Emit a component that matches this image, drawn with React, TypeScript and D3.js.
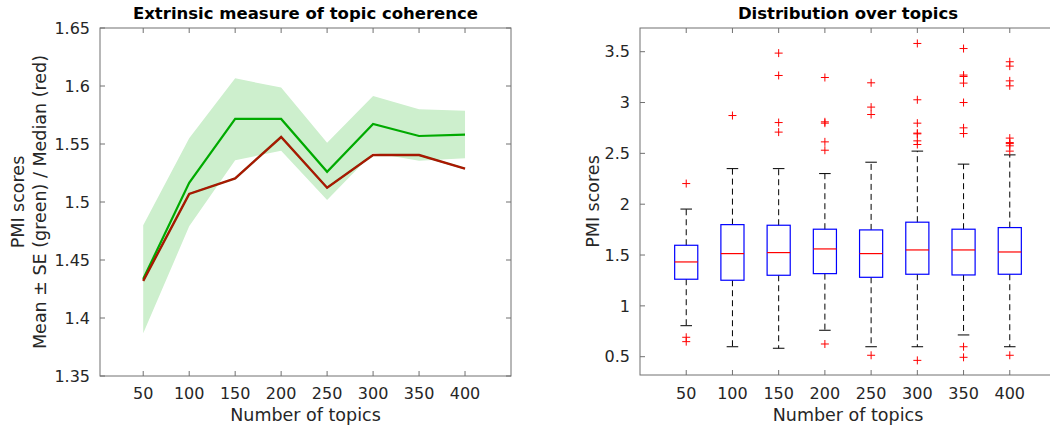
import React from "react";
import * as d3 from "d3";

// ---------- Data ----------
const topics = [50, 100, 150, 200, 250, 300, 350, 400];

// Left chart
const meanPMI = [1.4336, 1.5166, 1.5716, 1.5716, 1.526, 1.5672, 1.5569, 1.558];
const seUpper = [1.48, 1.555, 1.6066, 1.5986, 1.551, 1.5914, 1.5799, 1.5787];
const seLower = [1.3868, 1.479, 1.536, 1.5442, 1.5017, 1.5425, 1.5356, 1.5377];
const medianPMI = [1.432, 1.507, 1.5204, 1.556, 1.5123, 1.5405, 1.5405, 1.5287];
const leftYTicks = [1.35, 1.4, 1.45, 1.5, 1.55, 1.6, 1.65];

// Right chart (boxplot stats)
const boxQ1 = [1.262, 1.252, 1.301, 1.317, 1.281, 1.311, 1.304, 1.311];
const boxMedian = [1.432, 1.514, 1.524, 1.56, 1.514, 1.55, 1.55, 1.53];
const boxQ3 = [1.596, 1.799, 1.793, 1.754, 1.747, 1.823, 1.754, 1.77];
const whiskerLow = [0.805, 0.598, 0.583, 0.76, 0.598, 0.598, 0.714, 0.598];
const whiskerHigh = [1.952, 2.35, 2.35, 2.301, 2.413, 2.522, 2.394, 2.485];
const outliers: number[][] = [
  [2.203, 0.691, 0.648],
  [2.872],
  [3.486, 3.266, 2.803, 2.709],
  [3.246, 2.81, 2.797, 2.613, 2.531, 0.625],
  [3.194, 2.955, 2.882, 0.514],
  [3.581, 3.027, 2.797, 2.699, 2.692, 2.623, 2.587, 0.464],
  [3.531, 3.27, 3.256, 3.191, 3.0, 2.751, 2.695, 0.598, 0.494],
  [3.401, 3.358, 3.213, 3.164, 2.65, 2.606, 2.596, 2.574, 2.522, 0.514],
];
const rightYTicks = [0.5, 1, 1.5, 2, 2.5, 3, 3.5];

const FONT = "'DejaVu Sans', sans-serif";
const AXIS = "#707070";
const TXT = "#262626";
const TICK_FS = 16;
const LABEL_FS = 17.5;
const TITLE_FS = 16.5;

export default function App() {
  // Left axes
  const L = { x0: 100, x1: 511, y0: 28, y1: 376 };
  const lx = d3.scaleLinear().domain([3, 450]).range([L.x0, L.x1]);
  const ly = d3.scaleLinear().domain([1.35, 1.65]).range([L.y1, L.y0]);
  const band = d3
    .area<number>()
    .x((_, i) => lx(topics[i]))
    .y0((_, i) => ly(seLower[i]))
    .y1((_, i) => ly(seUpper[i]));
  const line = (vals: number[]) =>
    d3
      .line<number>()
      .x((_, i) => lx(topics[i]))
      .y((d) => ly(d))(vals) || "";

  // Right axes
  const R = { x0: 640, x1: 1056, y0: 28, y1: 375 };
  const rx = d3.scaleLinear().domain([0, 9]).range([R.x0, R.x1]);
  const ry = d3.scaleLinear().domain([0.32, 3.733]).range([R.y1, R.y0]);
  const unit = rx(1) - rx(0);
  const bw = unit * 0.5;
  const cw = unit * 0.25;
  const tick = 5;

  return (
    <svg width={1050} height={429} style={{ position: "absolute", left: 0, top: 0 }} fontFamily={FONT}>
      <rect width={1050} height={429} fill="#fff" />
      {/* ===== Left chart ===== */}
      <text x={(L.x0 + L.x1) / 2} y={19} textAnchor="middle" fontWeight="bold" fontSize={TITLE_FS} fill="#000">
        Extrinsic measure of topic coherence
      </text>
      <path d={band(topics.map(() => 0)) || ""} fill="#cdefcd" stroke="none" />
      <path d={line(meanPMI)} fill="none" stroke="#00aa00" strokeWidth={2.2} />
      <path d={line(medianPMI)} fill="none" stroke="#8a2c04" strokeWidth={2.4} />
      <path d={line(medianPMI)} fill="none" stroke="#d00000" strokeWidth={1.4} opacity={0.55} />
      <rect x={L.x0} y={L.y0} width={L.x1 - L.x0} height={L.y1 - L.y0} fill="none" stroke={AXIS} strokeWidth={1} />
      {topics.map((t) => (
        <g key={"lxt" + t}>
          <line x1={lx(t)} x2={lx(t)} y1={L.y1} y2={L.y1 - tick} stroke={AXIS} />
          <line x1={lx(t)} x2={lx(t)} y1={L.y0} y2={L.y0 + tick} stroke={AXIS} />
          <text x={lx(t)} y={399} textAnchor="middle" fontSize={TICK_FS} fill={TXT}>
            {t}
          </text>
        </g>
      ))}
      {leftYTicks.map((v) => (
        <g key={"lyt" + v}>
          <line x1={L.x0} x2={L.x0 + tick} y1={ly(v)} y2={ly(v)} stroke={AXIS} />
          <line x1={L.x1} x2={L.x1 - tick} y1={ly(v)} y2={ly(v)} stroke={AXIS} />
          <text x={90} y={ly(v)} dy="0.36em" textAnchor="end" fontSize={TICK_FS} fill={TXT}>
            {String(v)}
          </text>
        </g>
      ))}
      <text x={(L.x0 + L.x1) / 2} y={421} textAnchor="middle" fontSize={LABEL_FS} fill={TXT}>
        Number of topics
      </text>
      <text transform={`translate(24,${(L.y0 + L.y1) / 2}) rotate(-90)`} textAnchor="middle" fontSize={LABEL_FS} fill={TXT}>
        PMI scores
      </text>
      <text transform={`translate(46,${(L.y0 + L.y1) / 2}) rotate(-90)`} textAnchor="middle" fontSize={LABEL_FS} fill={TXT}>
        Mean ± SE (green) / Median (red)
      </text>

      {/* ===== Right chart ===== */}
      <text x={(R.x0 + R.x1) / 2} y={19} textAnchor="middle" fontWeight="bold" fontSize={TITLE_FS} fill="#000">
        Distribution over topics
      </text>
      {topics.map((t, i) => {
        const cx = rx(i + 1);
        return (
          <g key={"box" + t}>
            <line x1={cx} x2={cx} y1={ry(boxQ3[i])} y2={ry(whiskerHigh[i])} stroke="#000" strokeDasharray="6,4" />
            <line x1={cx} x2={cx} y1={ry(boxQ1[i])} y2={ry(whiskerLow[i])} stroke="#000" strokeDasharray="6,4" />
            <line x1={cx - cw / 2} x2={cx + cw / 2} y1={ry(whiskerHigh[i])} y2={ry(whiskerHigh[i])} stroke="#000" />
            <line x1={cx - cw / 2} x2={cx + cw / 2} y1={ry(whiskerLow[i])} y2={ry(whiskerLow[i])} stroke="#000" />
            <rect
              x={cx - bw / 2}
              y={ry(boxQ3[i])}
              width={bw}
              height={ry(boxQ1[i]) - ry(boxQ3[i])}
              fill="none"
              stroke="#0000ff"
              strokeWidth={1.2}
            />
            <line x1={cx - bw / 2} x2={cx + bw / 2} y1={ry(boxMedian[i])} y2={ry(boxMedian[i])} stroke="#ff0000" strokeWidth={1.2} />
            {outliers[i].map((o, j) => (
              <path
                key={j}
                d={`M${cx - 4},${ry(o)}H${cx + 4}M${cx},${ry(o) - 4}V${ry(o) + 4}`}
                stroke="#ff0000"
                strokeWidth={1}
                fill="none"
              />
            ))}
          </g>
        );
      })}
      <rect x={R.x0} y={R.y0} width={R.x1 - R.x0} height={R.y1 - R.y0} fill="none" stroke={AXIS} strokeWidth={1} />
      {topics.map((t, i) => (
        <g key={"rxt" + t}>
          <line x1={rx(i + 1)} x2={rx(i + 1)} y1={R.y1} y2={R.y1 - tick} stroke={AXIS} />
          <line x1={rx(i + 1)} x2={rx(i + 1)} y1={R.y0} y2={R.y0 + tick} stroke={AXIS} />
          <text x={rx(i + 1)} y={399} textAnchor="middle" fontSize={TICK_FS} fill={TXT}>
            {t}
          </text>
        </g>
      ))}
      {rightYTicks.map((v) => (
        <g key={"ryt" + v}>
          <line x1={R.x0} x2={R.x0 + tick} y1={ry(v)} y2={ry(v)} stroke={AXIS} />
          <text x={630} y={ry(v)} dy="0.36em" textAnchor="end" fontSize={TICK_FS} fill={TXT}>
            {String(v)}
          </text>
        </g>
      ))}
      <text x={(R.x0 + R.x1) / 2} y={421} textAnchor="middle" fontSize={LABEL_FS} fill={TXT}>
        Number of topics
      </text>
      <text transform={`translate(599,${(R.y0 + R.y1) / 2}) rotate(-90)`} textAnchor="middle" fontSize={LABEL_FS} fill={TXT}>
        PMI scores
      </text>
    </svg>
  );
}
